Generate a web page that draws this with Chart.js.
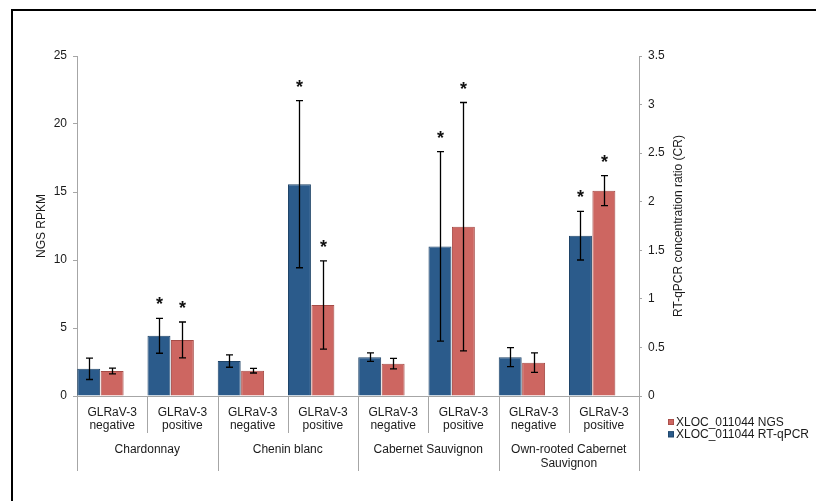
<!DOCTYPE html>
<html>
<head>
<meta charset="utf-8">
<script src="https://cdn.jsdelivr.net/npm/chart.js@4/dist/chart.umd.min.js"></script>
<style>
  html, body { margin: 0; padding: 0; background: #ffffff; }
  #wrap { width: 816px; height: 501px; position: relative; }
</style>
</head>
<body>
<div id="wrap"><canvas id="c" width="816" height="501"></canvas></div>
<script>
// ---- data ----
const categories = [
  ['GLRaV-3', 'negative'], ['GLRaV-3', 'positive'],
  ['GLRaV-3', 'negative'], ['GLRaV-3', 'positive'],
  ['GLRaV-3', 'negative'], ['GLRaV-3', 'positive'],
  ['GLRaV-3', 'negative'], ['GLRaV-3', 'positive']
];
const groups = [['Chardonnay'], ['Chenin blanc'], ['Cabernet Sauvignon'], ['Own-rooted Cabernet', 'Sauvignon']];
const rtqpcrValues = [0.28, 0.62, 0.36, 2.18, 0.40, 1.54, 0.40, 1.65];
const rtqpcrErrors = [0.11, 0.18, 0.064, 0.86, 0.043, 0.975, 0.098, 0.25];
const ngsValues = [1.84, 4.12, 1.86, 6.69, 2.38, 12.45, 2.45, 15.1];
const ngsErrors = [0.21, 1.32, 0.17, 3.24, 0.38, 9.13, 0.72, 1.10];
const rtqpcrSignificant = [false, true, false, true, false, true, false, true];
const ngsSignificant = [false, true, false, true, false, true, false, true];
const leftTicks = [0, 5, 10, 15, 20, 25];
const rightTicks = [0, 0.5, 1, 1.5, 2, 2.5, 3, 3.5];
const leftTitle = 'NGS RPKM';
const rightTitle = 'RT-qPCR concentration ratio (CR)';
const ngsLabel = 'XLOC_011044 NGS';
const rtqpcrLabel = 'XLOC_011044 RT-qPCR';

// ---- styles ----
const BLUE = '#2B5B8B', BLUE_EDGE = '#1F4468';
const RED = '#CD6661', RED_EDGE = '#A54B46';
const AXIS = '#a6a6a6';
const TEXT = '#1a1a1a';
const FONT = '"Liberation Sans", Arial, sans-serif';

Chart.defaults.font.family = FONT;
Chart.defaults.font.size = 12;
Chart.defaults.color = TEXT;

const errorBarsPlugin = {
  id: 'errorBars',
  afterDatasetsDraw(chart) {
    const ctx = chart.ctx;
    const specs = [
      { idx: 0, vals: rtqpcrValues, errs: rtqpcrErrors, sig: rtqpcrSignificant, axis: 'y1' },
      { idx: 1, vals: ngsValues, errs: ngsErrors, sig: ngsSignificant, axis: 'y' }
    ];
    ctx.save();
    specs.forEach(s => {
      const meta = chart.getDatasetMeta(s.idx);
      const scale = chart.scales[s.axis];
      meta.data.forEach((bar, i) => {
        const x = Math.round(bar.x) + 0.5;
        const yTop = scale.getPixelForValue(s.vals[i] + s.errs[i]);
        const yBot = scale.getPixelForValue(s.vals[i] - s.errs[i]);
        ctx.strokeStyle = '#000';
        ctx.lineWidth = 1.3;
        ctx.beginPath();
        ctx.moveTo(x, yTop); ctx.lineTo(x, yBot);
        ctx.moveTo(x - 3.5, yTop); ctx.lineTo(x + 3.5, yTop);
        ctx.moveTo(x - 3.5, yBot); ctx.lineTo(x + 3.5, yBot);
        ctx.stroke();
        if (s.sig[i]) {
          ctx.fillStyle = '#111';
          ctx.font = 'bold 18px ' + FONT;
          ctx.textAlign = 'center';
          ctx.textBaseline = 'alphabetic';
          ctx.fillText('*', x, yTop - 8);
        }
      });
    });
    ctx.restore();
  }
};

const decorPlugin = {
  id: 'decor',
  afterDraw(chart) {
    const ctx = chart.ctx;
    const xs = chart.scales.x;
    const area = chart.chartArea;
    const n = categories.length;
    const step = (area.right - area.left) / n;
    ctx.save();
    // separators
    ctx.strokeStyle = AXIS;
    ctx.lineWidth = 1;
    for (let i = 0; i <= n; i++) {
      const x = Math.round(area.left + i * step) + 0.5;
      const long = (i % 2 === 0);
      ctx.beginPath();
      ctx.moveTo(x, area.bottom);
      ctx.lineTo(x, area.bottom + (long ? 75 : 37));
      ctx.stroke();
    }
    // group labels
    ctx.fillStyle = TEXT;
    ctx.font = '12px ' + FONT;
    ctx.textAlign = 'center';
    ctx.textBaseline = 'middle';
    groups.forEach((g, gi) => {
      const cx = (xs.getPixelForValue(gi * 2) + xs.getPixelForValue(gi * 2 + 1)) / 2;
      g.forEach((line, li) => {
        ctx.fillText(line, cx, area.bottom + 54 + li * 13.4);
      });
    });
    // axis titles (both read bottom-to-top)
    const midY = (area.top + area.bottom) / 2;
    ctx.save();
    ctx.translate(41.5, midY);
    ctx.rotate(-Math.PI / 2);
    ctx.fillText(leftTitle, 0, 0);
    ctx.restore();
    ctx.save();
    ctx.translate(678.5, midY);
    ctx.rotate(-Math.PI / 2);
    ctx.fillText(rightTitle, 0, 0);
    ctx.restore();
    // legend
    const lx = 668, ly = 422;
    const items = [[RED, RED_EDGE, ngsLabel], [BLUE, BLUE_EDGE, rtqpcrLabel]];
    ctx.textAlign = 'left';
    items.forEach((it, k) => {
      const y = ly + k * 12.3;
      ctx.fillStyle = it[0];
      ctx.fillRect(lx, y - 3, 6, 6);
      ctx.strokeStyle = it[1];
      ctx.lineWidth = 0.8;
      ctx.strokeRect(lx + 0.4, y - 2.6, 5.2, 5.2);
      ctx.fillStyle = TEXT;
      ctx.fillText(it[2], lx + 8, y + 0.5);
    });
    // outer frame
    ctx.strokeStyle = '#000';
    ctx.lineWidth = 2;
    ctx.beginPath();
    ctx.moveTo(12, 510);
    ctx.lineTo(12, 10);
    ctx.lineTo(830, 10);
    ctx.stroke();
    ctx.restore();
  }
};

const bgPlugin = {
  id: 'bg',
  beforeDraw(chart) {
    const ctx = chart.ctx;
    ctx.save();
    ctx.fillStyle = '#fff';
    ctx.fillRect(0, 0, chart.width, chart.height);
    ctx.restore();
  }
};

new Chart(document.getElementById('c'), {
  type: 'bar',
  data: {
    labels: categories,
    datasets: [
      { label: rtqpcrLabel, data: rtqpcrValues, yAxisID: 'y1',
        backgroundColor: BLUE, borderColor: BLUE_EDGE, borderWidth: 1 },
      { label: ngsLabel, data: ngsValues, yAxisID: 'y',
        backgroundColor: RED, borderColor: RED_EDGE, borderWidth: 1 },
      { label: '', data: categories.map(() => null), yAxisID: 'y' }
    ]
  },
  options: {
    responsive: false,
    animation: false,
    layout: { padding: { top: 56, left: 0, right: 0, bottom: 0 } },
    datasets: { bar: { categoryPercentage: 1.0, barPercentage: 0.98 } },
    plugins: { legend: { display: false }, tooltip: { enabled: false }, title: { display: false } },
    scales: {
      x: {
        offset: true,
        grid: { display: false, drawTicks: false },
        border: { display: true, color: AXIS, width: 1 },
        ticks: { padding: 9.6, font: { size: 12, lineHeight: 1.12 }, color: TEXT, maxRotation: 0, autoSkip: false },
        afterFit(s) { s.height = 105; }
      },
      y: {
        position: 'left',
        min: leftTicks[0], max: leftTicks[leftTicks.length - 1],
        afterBuildTicks(s) { s.ticks = leftTicks.map(v => ({ value: v })); },
        ticks: { padding: 6, color: TEXT, font: { size: 12 }, callback: v => String(v) },
        grid: { drawOnChartArea: false, drawTicks: true, tickLength: 4, color: AXIS },
        border: { display: true, color: AXIS, width: 1 },
        afterFit(s) { s.width = 77; }
      },
      y1: {
        position: 'right',
        min: rightTicks[0], max: rightTicks[rightTicks.length - 1],
        afterBuildTicks(s) { s.ticks = rightTicks.map(v => ({ value: v })); },
        ticks: { padding: 6, color: TEXT, font: { size: 12 }, callback: v => String(v) },
        grid: { drawOnChartArea: false, drawTicks: true, tickLength: 3, color: AXIS },
        border: { display: true, color: AXIS, width: 1 },
        afterFit(s) { s.width = 177; }
      }
    }
  },
  plugins: [bgPlugin, errorBarsPlugin, decorPlugin]
});
</script>
</body>
</html>
